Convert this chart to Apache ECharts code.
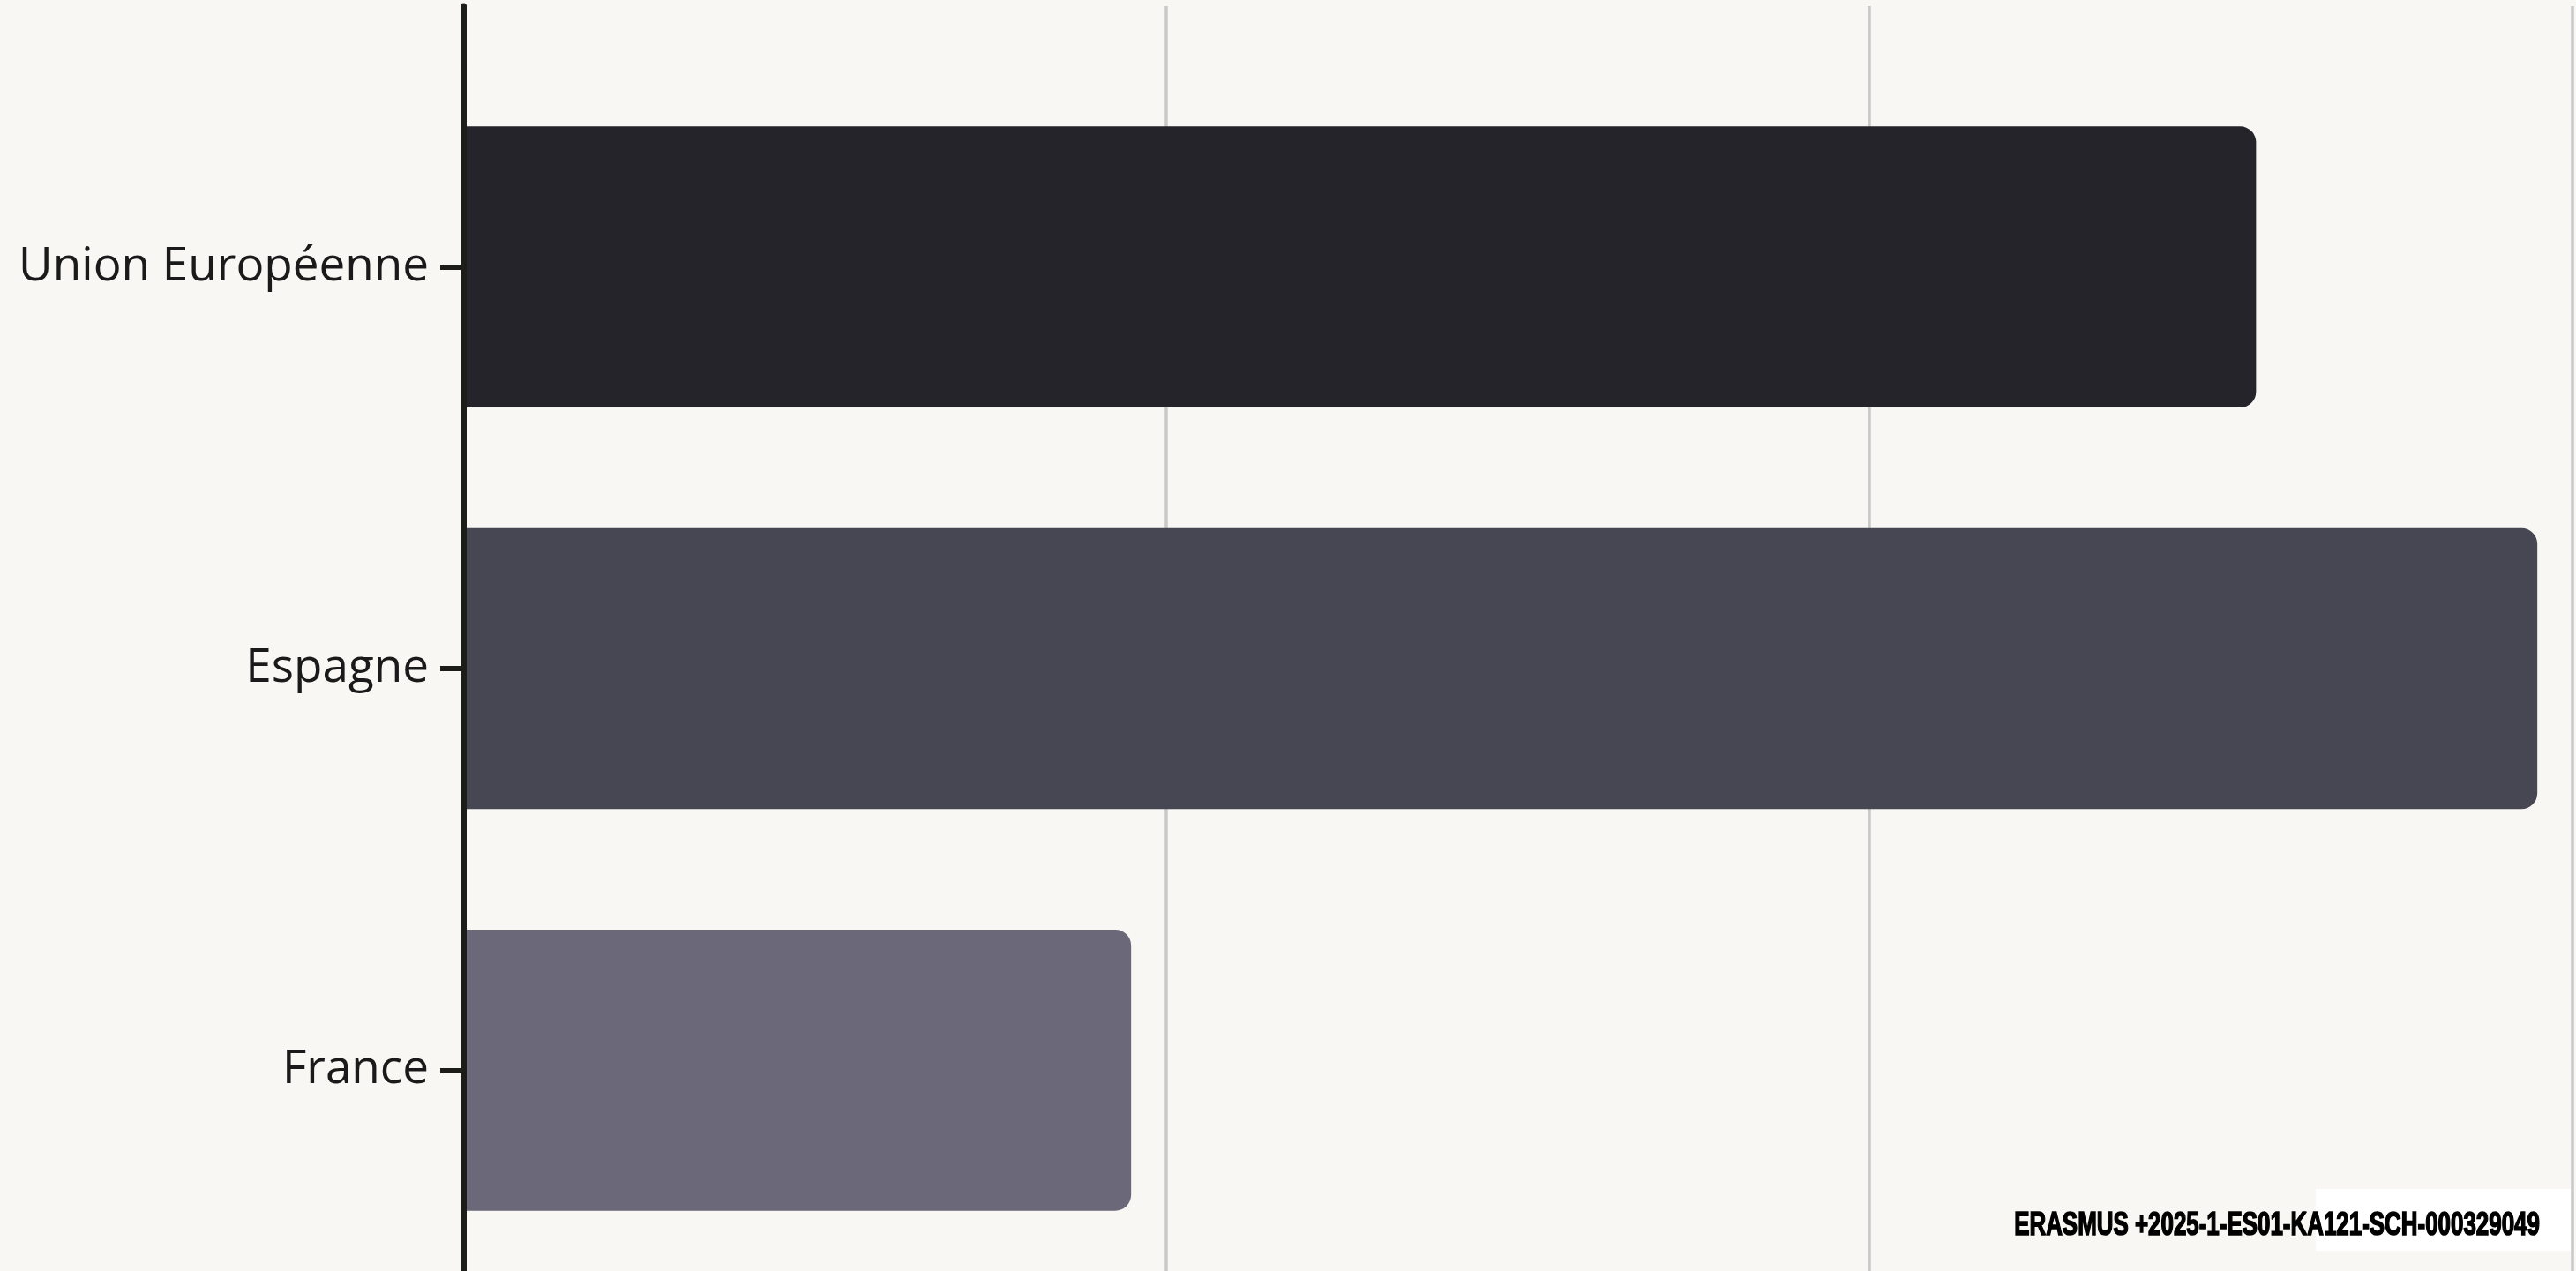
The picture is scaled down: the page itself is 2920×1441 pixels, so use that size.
<!DOCTYPE html>
<html>
<head>
<meta charset="utf-8">
<script src="https://cdn.jsdelivr.net/npm/echarts@6/dist/echarts.min.js"></script>
<style>
html,body{margin:0;padding:0;background:#f8f7f3;}
#c{width:2920px;height:1441px;}
</style>
</head>
<body>
<div id="c"></div>
<script>
const categories = ['Union Européenne', 'Espagne', 'France'];
const values = [25.5, 29.5, 9.5];
const barColors = ['#24242a', '#474753', '#6a6879'];
const axisMin = 0;
const axisMax = 30;
const axisInterval = 10;
const footnote = 'ERASMUS +2025-1-ES01-KA121-SCH-000329049';

const chart = echarts.init(document.getElementById('c'), null, {renderer: 'canvas'});
const axisColor = '#1c1c18';
const splitStyle = {show: true, lineStyle: {color: '#c9c9c9', width: 3.5}};
function valueAxis(idx) {
  return {
    type: 'value', gridIndex: idx, min: axisMin, max: axisMax, interval: axisInterval,
    axisLine: {show: false}, axisTick: {show: false}, axisLabel: {show: false},
    splitLine: splitStyle
  };
}
const option = {
  backgroundColor: '#f8f7f3',
  animation: false,
  grid: [
    {left: 525, right: 4, top: 75, bottom: 0},
    {left: 525, right: 4, top: 7, height: 68}
  ],
  xAxis: [valueAxis(0), valueAxis(1)],
  yAxis: [
    {
      type: 'category', gridIndex: 0, data: categories, inverse: true, z: 10,
      axisLine: {show: true, lineStyle: {color: axisColor, width: 7}},
      axisTick: {show: true, alignWithLabel: true, length: 26, lineStyle: {color: axisColor, width: 6}},
      axisLabel: {margin: 39, fontFamily: '"Open Sans", sans-serif', fontSize: 53, color: '#1a1a1a', padding: [6, 0, 0, 0]},
      splitLine: {show: false}
    },
    {
      type: 'category', gridIndex: 1, data: [''], z: 10,
      axisLine: {show: true, lineStyle: {color: axisColor, width: 7}},
      axisTick: {show: false}, axisLabel: {show: false}, splitLine: {show: false}
    }
  ],
  series: [{
    type: 'bar', xAxisIndex: 0, yAxisIndex: 0, barWidth: '70%',
    itemStyle: {borderRadius: [0, 18, 18, 0]},
    data: values.map((v, i) => ({value: v, itemStyle: {color: barColors[i]}}))
  }],
  graphic: [
    {type: 'rect', z: 100, shape: {x: 2625, y: 1348, width: 289, height: 70}, style: {fill: '#ffffff'}},
    {type: 'text', z: 101, x: 2581, y: 1390, scaleX: 0.72, style: {
      text: footnote, x: 0, y: 0, align: 'center', verticalAlign: 'middle',
      font: 'bold 36px "Liberation Sans", Arial, sans-serif', fill: '#000000',
      stroke: '#000000', lineWidth: 1.6
    }}
  ]
};
chart.setOption(option);
</script>
</body>
</html>
